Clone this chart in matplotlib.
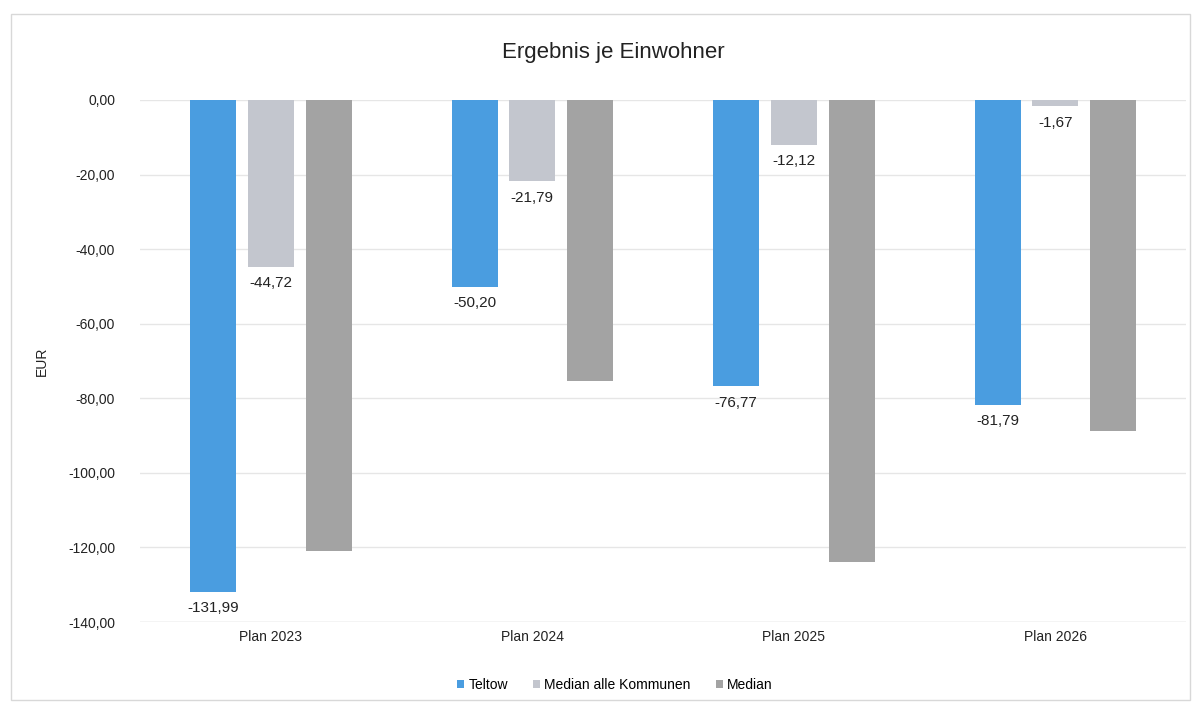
import numpy as np
import matplotlib.pyplot as plt
from matplotlib.patches import Rectangle

plt.rcParams['font.family'] = ['Liberation Sans', 'DejaVu Sans']

# data
categories = ['Plan 2023', 'Plan 2024', 'Plan 2025', 'Plan 2026']
teltow = [-131.99, -50.20, -76.77, -81.79]
median_alle = [-44.72, -21.79, -12.12, -1.67]
median = [-121.0, -75.3, -123.9, -88.7]
series_names = ['Teltow', 'Median alle Kommunen', 'Median']

colors = ['#4a9de0', '#c3c6ce', '#a3a3a3']

fig = plt.figure(figsize=(12.01, 7.09), dpi=100)
fig.patches.append(Rectangle((0.009, 0.012), 0.982, 0.968, transform=fig.transFigure,
                             fill=False, edgecolor='#d8d8d8', linewidth=1.0))
ax = fig.add_axes([0.1166, 0.1227, 0.871, 0.7363])

x = np.arange(len(categories))
w = 0.176
offs = [-0.221, 0.0, 0.221]
for vals, off, c, name in zip([teltow, median_alle, median], offs, colors, series_names):
    ax.bar(x + off, vals, width=w, color=c, label=name)

def fmt(v):
    return f'{v:.2f}'.replace('.', ',')

for i in range(len(categories)):
    ax.text(x[i] + offs[0], teltow[i] - 2.5, fmt(teltow[i]), ha='center', va='top',
            fontsize=11, color='#222222')
    ax.text(x[i] + offs[1], median_alle[i] - 2.5, fmt(median_alle[i]), ha='center', va='top',
            fontsize=11, color='#222222')

ax.set_xlim(-0.5, 3.5)
ax.set_ylim(-140, 0)
ax.set_yticks(np.arange(-140, 1, 20))
ax.set_yticklabels([fmt(v) for v in np.arange(-140, 1, 20)])
ax.set_xticks(x)
ax.set_xticklabels(categories)
ax.tick_params(axis='both', length=0, labelsize=10, colors='#222222')
ax.tick_params(axis='y', pad=18)
ax.tick_params(axis='x', pad=6)
ax.grid(axis='y', color='#e6e6e6', linewidth=1)
ax.set_axisbelow(True)
for s in ax.spines.values():
    s.set_visible(False)
ax.axhline(-140, color='#e0e0e0', linewidth=1, zorder=0)

ax.set_ylabel('EUR', fontsize=10, color='#222222', labelpad=14)
fig.text(0.511, 0.926, 'Ergebnis je Einwohner', ha='center', va='center', fontsize=16,
         color='#222222')

fig.legend(loc='center', bbox_to_anchor=(0.512, 0.034), ncol=3, frameon=False,
           fontsize=10, handlelength=0.5, handleheight=0.5, handletextpad=0.3,
           columnspacing=1.8)

fig.savefig('out.png', dpi=100)
